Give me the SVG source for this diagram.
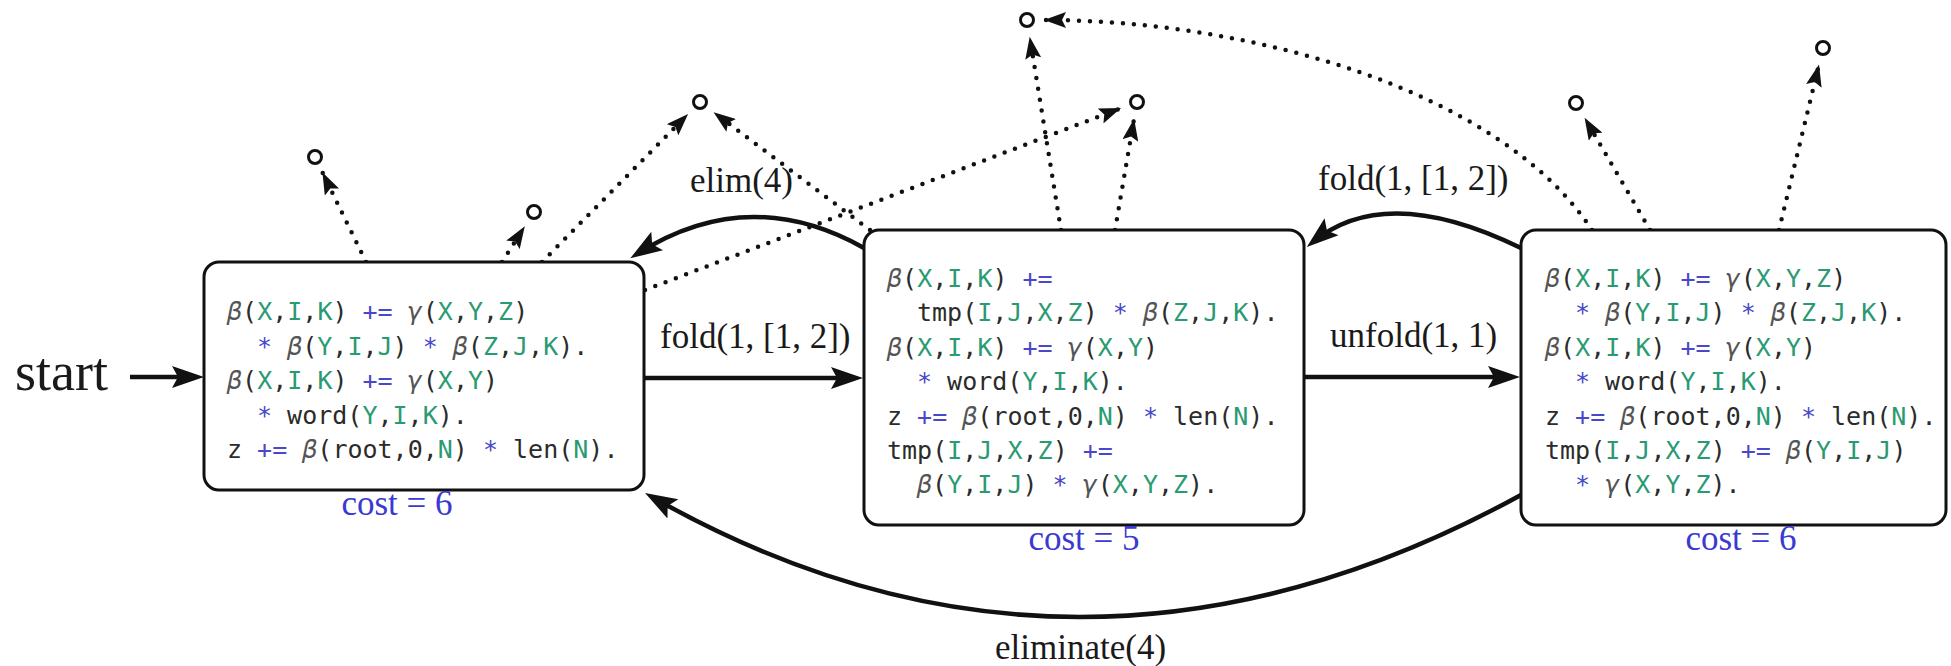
<svg xmlns="http://www.w3.org/2000/svg" width="1951" height="666" viewBox="0 0 1951 666">
<style>
.box{fill:#fff;stroke:#111;stroke-width:3}
.code{font-family:"DejaVu Sans Mono","Liberation Mono",monospace;font-size:25px;fill:#2b2b2b}
.v{fill:#2a9a72}
.o{fill:#4848c8}
.g{fill:#555;font-style:italic}
.lbl{font-family:"Liberation Serif","Times New Roman",serif;font-size:35px;fill:#1a1a1a}
.cost{font-family:"Liberation Serif","Times New Roman",serif;font-size:35px;fill:#3a3ad0;text-anchor:middle}
.solid{fill:none;stroke:#111;stroke-width:4.5}
.dot{fill:none;stroke:#111;stroke-width:4.5;stroke-dasharray:0 11;stroke-linecap:round}
.sink{fill:#fff;stroke:#111;stroke-width:3}
</style>
<defs>
<marker id="ah" markerWidth="32" markerHeight="24" refX="24" refY="12" orient="auto" markerUnits="userSpaceOnUse" viewBox="0 0 32 24"><path d="M0,1 L32,12 L0,23 L6,12 Z" fill="#111"/></marker>
<marker id="dh" markerWidth="22" markerHeight="16" refX="22" refY="8" orient="auto" markerUnits="userSpaceOnUse" viewBox="0 0 22 16"><path d="M0,0 L22,8 L0,16 L4,8 Z" fill="#111"/></marker>
</defs>

<g id="connectors">
<path class="solid" d="M130 377 L196 377" marker-end="url(#ah)"/>
<path class="solid" d="M645 378 L855 378" marker-end="url(#ah)"/>
<path class="solid" d="M1305 377 L1512 377" marker-end="url(#ah)"/>
<path class="solid" d="M864 248 Q748 183 637 254" marker-end="url(#ah)"/>
<path class="solid" d="M1521 248 Q1386 182 1313 242" marker-end="url(#ah)"/>
<path class="solid" d="M1521 495 Q1077 738 652 497" marker-end="url(#ah)"/>

<path class="dot" d="M366 262 L322.4 172.3" marker-end="url(#dh)"/>
<path class="dot" d="M502 262 L524.8 226.3" marker-end="url(#dh)"/>
<path class="dot" d="M542 262 L688.1 114.1" marker-end="url(#dh)"/>
<path class="dot" d="M645 290 L1121.1 108.1" marker-end="url(#dh)"/>
<path class="dot" d="M870 230 L713.6 112.2" marker-end="url(#dh)"/>
<path class="dot" d="M1061 230 L1029.7 36.8" marker-end="url(#dh)"/>
<path class="dot" d="M1115 230 L1134.1 118.7" marker-end="url(#dh)"/>
<path class="dot" d="M1592 230 C1500 90 1250 20 1044 20" marker-end="url(#dh)"/>
<path class="dot" d="M1650 230 L1584.6 117.7" marker-end="url(#dh)"/>
<path class="dot" d="M1779 230 L1819 64.5" marker-end="url(#dh)"/>

<text class="lbl" x="660" y="348">fold(1, [1, 2])</text>
<text class="lbl" x="1330" y="347">unfold(1, 1)</text>
<text class="lbl" x="690" y="192">elim(4)</text>
<text class="lbl" x="1318" y="190">fold(1, [1, 2])</text>
<text class="lbl" x="995" y="659">eliminate(4)</text>
</g>

<g id="start">
<text x="15" y="390" style="font-family:'Liberation Serif','Times New Roman',serif;font-size:54px;fill:#1a1a1a">start</text>
</g>

<g id="sinks">
<circle class="sink" cx="315" cy="157" r="6.5"/>
<circle class="sink" cx="534" cy="212" r="6.5"/>
<circle class="sink" cx="700" cy="102" r="6.5"/>
<circle class="sink" cx="1027" cy="20" r="6.5"/>
<circle class="sink" cx="1137" cy="102" r="6.5"/>
<circle class="sink" cx="1576" cy="103" r="6.5"/>
<circle class="sink" cx="1823" cy="48" r="6.5"/>
</g>

<g id="state1">
<rect class="box" x="204" y="262" width="440" height="228" rx="15"/>
<text class="code" x="227" y="320"><tspan class="g">β</tspan>(<tspan class="v">X</tspan>,<tspan class="v">I</tspan>,<tspan class="v">K</tspan>) <tspan class="o">+=</tspan> <tspan class="g">γ</tspan>(<tspan class="v">X</tspan>,<tspan class="v">Y</tspan>,<tspan class="v">Z</tspan>)</text>
<text class="code" x="257" y="354.5"><tspan class="o">*</tspan> <tspan class="g">β</tspan>(<tspan class="v">Y</tspan>,<tspan class="v">I</tspan>,<tspan class="v">J</tspan>) <tspan class="o">*</tspan> <tspan class="g">β</tspan>(<tspan class="v">Z</tspan>,<tspan class="v">J</tspan>,<tspan class="v">K</tspan>).</text>
<text class="code" x="227" y="389"><tspan class="g">β</tspan>(<tspan class="v">X</tspan>,<tspan class="v">I</tspan>,<tspan class="v">K</tspan>) <tspan class="o">+=</tspan> <tspan class="g">γ</tspan>(<tspan class="v">X</tspan>,<tspan class="v">Y</tspan>)</text>
<text class="code" x="257" y="423.5"><tspan class="o">*</tspan> word(<tspan class="v">Y</tspan>,<tspan class="v">I</tspan>,<tspan class="v">K</tspan>).</text>
<text class="code" x="227" y="458">z <tspan class="o">+=</tspan> <tspan class="g">β</tspan>(root,0,<tspan class="v">N</tspan>) <tspan class="o">*</tspan> len(<tspan class="v">N</tspan>).</text>
<text class="cost" x="397" y="515">cost = 6</text>
</g>

<g id="state2">
<rect class="box" x="864" y="230" width="440" height="295" rx="15"/>
<text class="code" x="887" y="287"><tspan class="g">β</tspan>(<tspan class="v">X</tspan>,<tspan class="v">I</tspan>,<tspan class="v">K</tspan>) <tspan class="o">+=</tspan></text>
<text class="code" x="917" y="321.4">tmp(<tspan class="v">I</tspan>,<tspan class="v">J</tspan>,<tspan class="v">X</tspan>,<tspan class="v">Z</tspan>) <tspan class="o">*</tspan> <tspan class="g">β</tspan>(<tspan class="v">Z</tspan>,<tspan class="v">J</tspan>,<tspan class="v">K</tspan>).</text>
<text class="code" x="887" y="355.8"><tspan class="g">β</tspan>(<tspan class="v">X</tspan>,<tspan class="v">I</tspan>,<tspan class="v">K</tspan>) <tspan class="o">+=</tspan> <tspan class="g">γ</tspan>(<tspan class="v">X</tspan>,<tspan class="v">Y</tspan>)</text>
<text class="code" x="917" y="390.2"><tspan class="o">*</tspan> word(<tspan class="v">Y</tspan>,<tspan class="v">I</tspan>,<tspan class="v">K</tspan>).</text>
<text class="code" x="887" y="424.6">z <tspan class="o">+=</tspan> <tspan class="g">β</tspan>(root,0,<tspan class="v">N</tspan>) <tspan class="o">*</tspan> len(<tspan class="v">N</tspan>).</text>
<text class="code" x="887" y="459">tmp(<tspan class="v">I</tspan>,<tspan class="v">J</tspan>,<tspan class="v">X</tspan>,<tspan class="v">Z</tspan>) <tspan class="o">+=</tspan></text>
<text class="code" x="917" y="493.4"><tspan class="g">β</tspan>(<tspan class="v">Y</tspan>,<tspan class="v">I</tspan>,<tspan class="v">J</tspan>) <tspan class="o">*</tspan> <tspan class="g">γ</tspan>(<tspan class="v">X</tspan>,<tspan class="v">Y</tspan>,<tspan class="v">Z</tspan>).</text>
<text class="cost" x="1084" y="550">cost = 5</text>
</g>

<g id="state3">
<rect class="box" x="1521" y="230" width="425" height="295" rx="15"/>
<text class="code" x="1545" y="287"><tspan class="g">β</tspan>(<tspan class="v">X</tspan>,<tspan class="v">I</tspan>,<tspan class="v">K</tspan>) <tspan class="o">+=</tspan> <tspan class="g">γ</tspan>(<tspan class="v">X</tspan>,<tspan class="v">Y</tspan>,<tspan class="v">Z</tspan>)</text>
<text class="code" x="1575" y="321.4"><tspan class="o">*</tspan> <tspan class="g">β</tspan>(<tspan class="v">Y</tspan>,<tspan class="v">I</tspan>,<tspan class="v">J</tspan>) <tspan class="o">*</tspan> <tspan class="g">β</tspan>(<tspan class="v">Z</tspan>,<tspan class="v">J</tspan>,<tspan class="v">K</tspan>).</text>
<text class="code" x="1545" y="355.8"><tspan class="g">β</tspan>(<tspan class="v">X</tspan>,<tspan class="v">I</tspan>,<tspan class="v">K</tspan>) <tspan class="o">+=</tspan> <tspan class="g">γ</tspan>(<tspan class="v">X</tspan>,<tspan class="v">Y</tspan>)</text>
<text class="code" x="1575" y="390.2"><tspan class="o">*</tspan> word(<tspan class="v">Y</tspan>,<tspan class="v">I</tspan>,<tspan class="v">K</tspan>).</text>
<text class="code" x="1545" y="424.6">z <tspan class="o">+=</tspan> <tspan class="g">β</tspan>(root,0,<tspan class="v">N</tspan>) <tspan class="o">*</tspan> len(<tspan class="v">N</tspan>).</text>
<text class="code" x="1545" y="459">tmp(<tspan class="v">I</tspan>,<tspan class="v">J</tspan>,<tspan class="v">X</tspan>,<tspan class="v">Z</tspan>) <tspan class="o">+=</tspan> <tspan class="g">β</tspan>(<tspan class="v">Y</tspan>,<tspan class="v">I</tspan>,<tspan class="v">J</tspan>)</text>
<text class="code" x="1575" y="493.4"><tspan class="o">*</tspan> <tspan class="g">γ</tspan>(<tspan class="v">X</tspan>,<tspan class="v">Y</tspan>,<tspan class="v">Z</tspan>).</text>
<text class="cost" x="1741" y="550">cost = 6</text>
</g>
</svg>
